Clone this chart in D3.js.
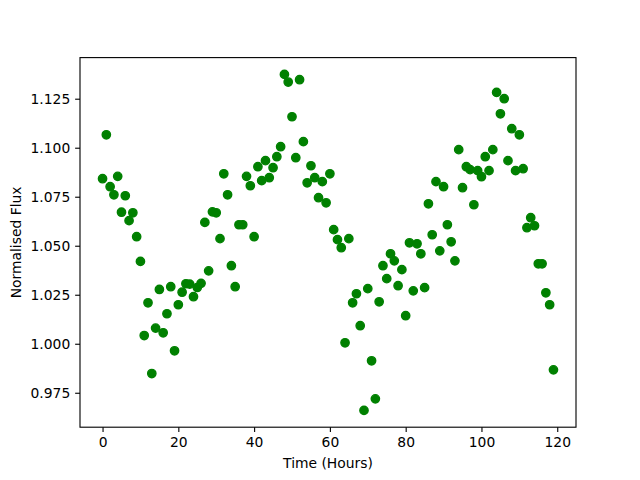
<!DOCTYPE html>
<html>
<head>
<meta charset="utf-8">
<script src="https://cdn.jsdelivr.net/npm/d3@7"></script>
<style>
  body { margin: 0; background: #ffffff; }
  svg { display: block; font-family: 'DejaVu Sans', sans-serif; }
</style>
</head>
<body>
<div id="chart"></div>
<script>
// hourly samples 0..119
const hours = d3.range(0, 120)

const flux = [
  1.0842, 1.1066, 1.0801, 1.0760, 1.0854, 1.0671, 1.0755, 1.0628, 1.0668, 1.0546,
  1.0420, 1.0042, 1.0209, 0.9848, 1.0080, 1.0277, 1.0056, 1.0153, 1.0291, 0.9964,
  1.0199, 1.0263, 1.0306, 1.0304, 1.0240, 1.0287, 1.0308, 1.0619, 1.0372, 1.0673,
  1.0668, 1.0536, 1.0867, 1.0760, 1.0398, 1.0291, 1.0607, 1.0607, 1.0854, 1.0806,
  1.0546, 1.0903, 1.0832, 1.0934, 1.0847, 1.0898, 1.0954, 1.1005, 1.1374, 1.1335,
  1.1158, 1.0949, 1.1347, 1.1031, 1.0821, 1.0908, 1.0847, 1.0745, 1.0827, 1.0719,
  1.0867, 1.0582, 1.0531, 1.0490, 1.0005, 1.0536, 1.0209, 1.0255, 1.0092, 0.9660,
  1.0281, 0.9913, 0.9719, 1.0214, 1.0398, 1.0332, 1.0459, 1.0423, 1.0296, 1.0378,
  1.0143, 1.0515, 1.0270, 1.0510, 1.0459, 1.0286, 1.0714, 1.0556, 1.0827, 1.0474,
  1.0801, 1.0607, 1.0520, 1.0423, 1.0990, 1.0796, 1.0903, 1.0888, 1.0709, 1.0883,
  1.0852, 1.0954, 1.0883, 1.0990, 1.1282, 1.1173, 1.1250, 1.0934, 1.1097, 1.0883,
  1.1066, 1.0893, 1.0592, 1.0643, 1.0602, 1.0408, 1.0408, 1.0260, 1.0199, 0.9867
]

const xTicks = [0, 20, 40, 60, 80, 100, 120]
const yTicks = [0.975, 1.000, 1.025, 1.050, 1.075, 1.100, 1.125]

const width = 640
const height = 480
const margin = { top: 57.6, right: 64, bottom: 52.8, left: 80 }
const pt = 100 / 72

const svg = d3
  .select('#chart')
  .append('svg')
  .attr('width', width)
  .attr('height', height)

svg.append('rect').attr('width', width).attr('height', height).attr('fill', '#ffffff')

// matplotlib style 5% padding around the data extent
const xExt = d3.extent(hours)
const xPad = (xExt[1] - xExt[0]) * 0.05
const xScale = d3
  .scaleLinear()
  .domain([xExt[0] - xPad, xExt[1] + xPad])
  .range([margin.left, width - margin.right])

const yExt = d3.extent(flux)
const yPad = (yExt[1] - yExt[0]) * 0.05
const yScale = d3
  .scaleLinear()
  .domain([yExt[0] - yPad, yExt[1] + yPad])
  .range([height - margin.bottom, margin.top])

const styleAxis = (g) => {
  g.select('.domain').remove()
  g.selectAll('.tick>line').attr('stroke', '#000000').attr('stroke-width', 0.8 * pt)
  g.selectAll('.tick>text')
    .attr('fill', '#000000')
    .style('font-family', 'DejaVu Sans')
    .style('font-size', `${10 * pt}px`)
}

svg
  .append('g')
  .attr('transform', `translate(0, ${height - margin.bottom})`)
  .call(
    d3.axisBottom(xScale)
      .tickValues(xTicks)
      .tickFormat(d3.format('d'))
      .tickSize(3.5 * pt)
      .tickPadding(3.5 * pt)
  )
  .call(styleAxis)

svg
  .append('g')
  .attr('transform', `translate(${margin.left}, 0)`)
  .call(
    d3.axisLeft(yScale)
      .tickValues(yTicks)
      .tickFormat(d3.format('.3f'))
      .tickSize(3.5 * pt)
      .tickPadding(3.5 * pt)
  )
  .call(styleAxis)

// points
svg
  .append('g')
  .selectAll('circle')
  .data(hours.map((h, i) => ({ h, v: flux[i] })))
  .join('circle')
  .attr('cx', (d) => xScale(d.h))
  .attr('cy', (d) => yScale(d.v))
  .attr('r', 3 * pt)
  .attr('fill', '#008000')
  .attr('stroke', '#008000')
  .attr('stroke-width', 1 * pt)

// frame
svg
  .append('rect')
  .attr('x', margin.left)
  .attr('y', margin.top)
  .attr('width', width - margin.left - margin.right)
  .attr('height', height - margin.top - margin.bottom)
  .attr('fill', 'none')
  .attr('stroke', '#000000')
  .attr('stroke-width', 0.8 * pt)

svg
  .append('text')
  .attr('x', (margin.left + width - margin.right) / 2)
  .attr('y', 468)
  .attr('text-anchor', 'middle')
  .style('font-size', `${10 * pt}px`)
  .text('Time (Hours)')

svg
  .append('text')
  .attr('transform', `translate(21, ${(margin.top + height - margin.bottom) / 2}) rotate(-90)`)
  .attr('text-anchor', 'middle')
  .style('font-size', `${10 * pt}px`)
  .text('Normalised Flux')
</script>
</body>
</html>
